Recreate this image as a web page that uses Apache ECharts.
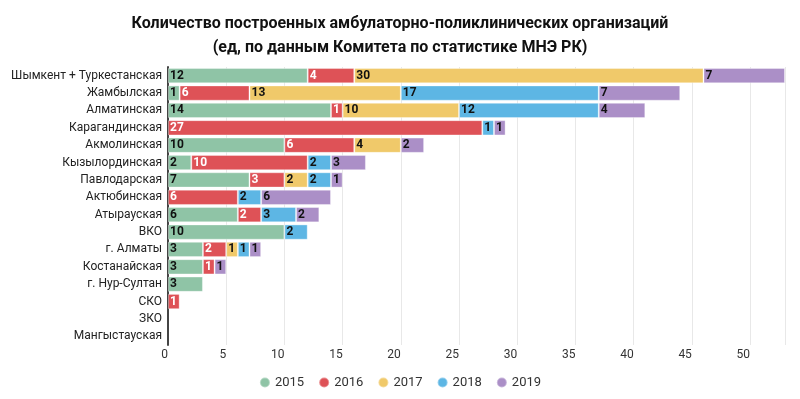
<!DOCTYPE html>
<html>
<head>
    <meta charset="UTF-8">
    <title>Амбулаторно-поликлинические организации</title>
    <script src="https://cdn.jsdelivr.net/npm/echarts@6/dist/echarts.min.js"></script>
    <style>
        html, body { margin: 0; padding: 0; background: #fff; }
    </style>
</head>
<body>
<div id="chart" style="width: 800px;height:399px;"></div>

<script type="text/javascript">
    // регионы сверху вниз
    var regions = ['Шымкент + Туркестанская', 'Жамбылская', 'Алматинская', 'Карагандинская', 'Акмолинская',
        'Кызылординская', 'Павлодарская', 'Актюбинская', 'Атырауская', 'ВКО', 'г. Алматы',
        'Костанайская', 'г. Нур-Султан', 'СКО', 'ЗКО', 'Мангыстауская'];
    var years = ['2015', '2016', '2017', '2018', '2019'];
    var v2015 = [12, 1, 14, 0, 10, 2, 7, 0, 6, 10, 3, 3, 3, 0, 0, 0];
    var v2016 = [4, 6, 1, 27, 6, 10, 3, 6, 2, 0, 2, 1, 0, 1, 0, 0];
    var v2017 = [30, 13, 10, 0, 4, 0, 2, 0, 0, 0, 1, 0, 0, 0, 0, 0];
    var v2018 = [0, 17, 12, 1, 0, 2, 2, 2, 3, 2, 1, 0, 0, 0, 0, 0];
    var v2019 = [7, 7, 4, 1, 2, 3, 1, 6, 2, 0, 1, 1, 0, 0, 0, 0];
    var colors = ['#8fc4a6', '#de5257', '#f0c96a', '#5db6e4', '#ab8fc7'];
    var labelColors = ['#111', '#fff', '#111', '#111', '#111'];

    var chart = echarts.init(document.getElementById('chart'));
    var allValues = [v2015, v2016, v2017, v2018, v2019];

    var series = years.map(function (y, i) {
        return {
            name: y,
            type: 'bar',
            stack: 'total',
            barCategoryGap: '12%',
            // нули не рисуем
            data: allValues[i].map(function (v) { return v === 0 ? '-' : v; }),
            itemStyle: {
                color: colors[i],
                borderColor: 'rgba(255,255,255,0.35)',
                borderWidth: 1
            },
            label: {
                show: true,
                position: 'insideLeft',
                distance: 2,
                color: labelColors[i],
                fontFamily: 'Roboto',
                fontWeight: 'bold',
                fontSize: 12
            }
        };
    });

    var option = {
        animation: false,
        color: colors,
        title: {
            text: 'Количество построенных амбулаторно-поликлинических организаций\n(ед, по данным Комитета по статистике МНЭ РК)',
            left: 'center',
            top: 7,
            textStyle: {
                fontFamily: 'Roboto',
                fontSize: 16,
                fontWeight: 'bold',
                color: '#111',
                lineHeight: 24
            }
        },
        legend: {
            data: years,
            bottom: 5,
            left: 'center',
            icon: 'circle',
            itemWidth: 10,
            itemHeight: 10,
            itemGap: 14,
            textStyle: { fontFamily: 'Roboto', fontSize: 13, color: '#333' }
        },
        grid: {
            left: 168,
            right: 15,
            top: 67,
            bottom: 54,
            containLabel: false
        },
        xAxis: {
            type: 'value',
            min: 0,
            max: 53,
            interval: 5,
            axisLine: { show: false },
            axisTick: { show: false },
            splitLine: { lineStyle: { color: '#e8e8e8' } },
            axisLabel: {
                color: '#333',
                fontFamily: 'Roboto',
                fontSize: 12,
                align: 'right',
                margin: 4,
                formatter: function (v) { return v % 5 === 0 ? v : ''; }
            }
        },
        yAxis: {
            type: 'category',
            inverse: true,
            data: regions,
            axisTick: { show: false },
            axisLine: { lineStyle: { color: '#444', width: 2 } },
            axisLabel: {
                color: '#222',
                fontFamily: 'Roboto',
                fontSize: 12,
                margin: 6
            }
        },
        series: series
    };

    chart.setOption(option);
</script>
</body>
</html>
